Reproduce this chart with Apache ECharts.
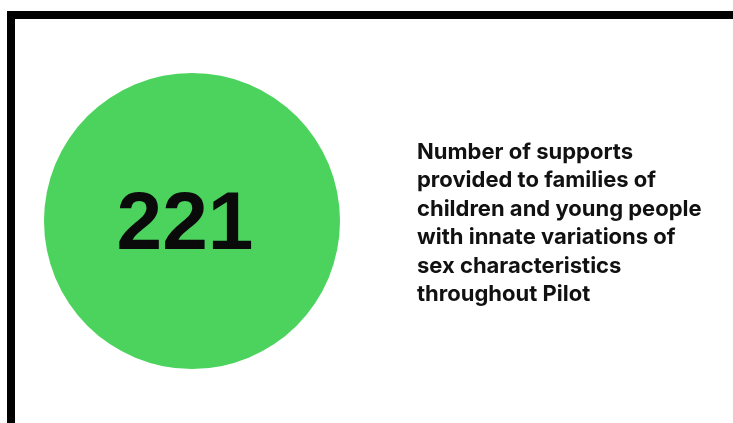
<!DOCTYPE html>
<html>
<head>
<meta charset="utf-8">
<script src="https://cdn.jsdelivr.net/npm/echarts@6/dist/echarts.min.js"></script>
<style>
  html, body { margin: 0; padding: 0; background: #ffffff; }
  #chart { width: 733px; height: 423px; }
</style>
</head>
<body>
<div id="chart"></div>
<script>
// Headline figure and its caption
const metricLabels = ['Supports provided'];
const metricValues = [221];
const captionLines = [
  'Number of supports',
  'provided to families of',
  'children and young people',
  'with innate variations of',
  'sex characteristics',
  'throughout Pilot'
];

const chart = echarts.init(document.getElementById('chart'), null, { renderer: 'canvas' });

chart.setOption({
  backgroundColor: '#ffffff',
  animation: false,
  title: {
    text: captionLines.join('\n'),
    left: 412,
    top: 133,
    textStyle: {
      fontFamily: 'Inter',
      fontWeight: 700,
      fontSize: 22,
      lineHeight: 28.5,
      color: '#111111'
    }
  },
  graphic: [
    // frame: top and left rules
    { type: 'rect', shape: { x: 7, y: 11, width: 726, height: 8 }, style: { fill: '#000000' } },
    { type: 'rect', shape: { x: 7, y: 11, width: 8, height: 412 }, style: { fill: '#000000' } }
  ],
  series: [{
    type: 'pie',
    center: [192, 221],
    radius: [0, 148],
    silent: true,
    startAngle: 90,
    itemStyle: { color: '#4bd35d' },
    label: {
      show: true,
      position: 'center',
      formatter: '{c}',
      fontFamily: 'Liberation Sans',
      fontWeight: 'bold',
      fontSize: 82,
      offset: [-7, 5],
      color: '#0a0a0a'
    },
    labelLine: { show: false },
    data: metricLabels.map((name, i) => ({ name, value: metricValues[i] }))
  }]
});
</script>
</body>
</html>
